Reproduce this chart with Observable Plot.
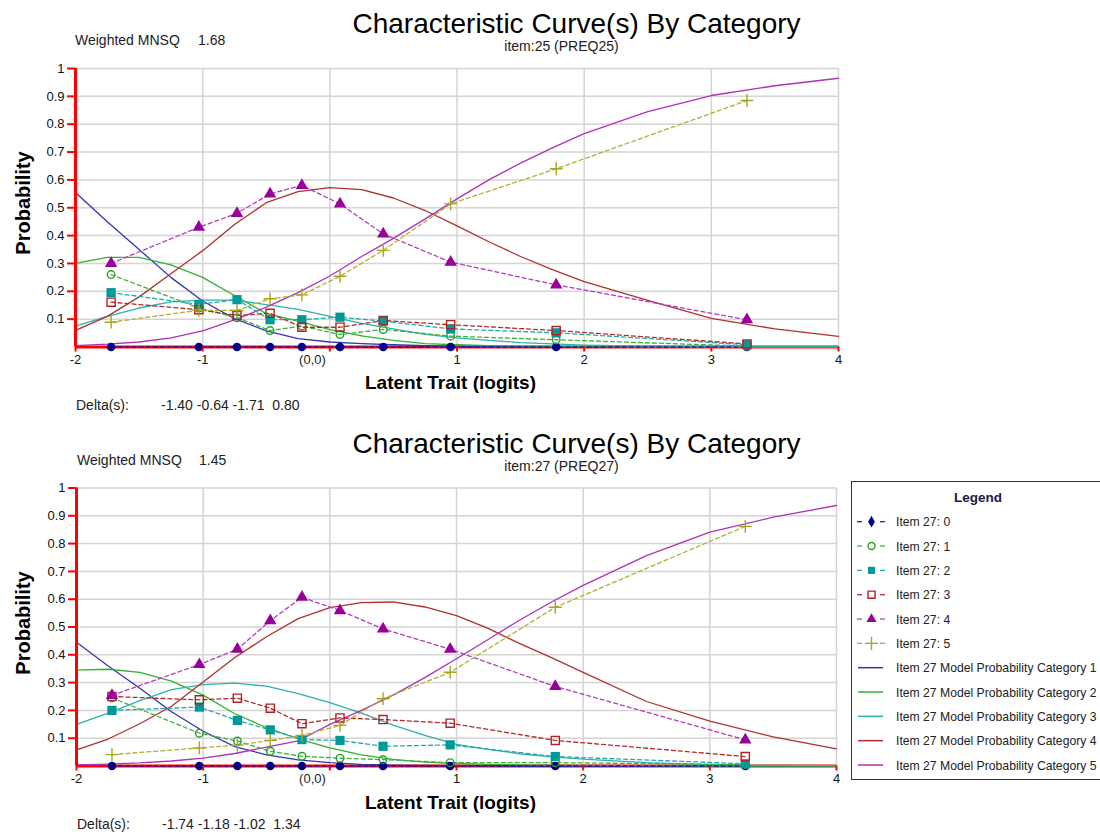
<!DOCTYPE html>
<html>
<head>
<meta charset="utf-8">
<script src="https://cdn.jsdelivr.net/npm/d3@7"></script>
<script src="https://cdn.jsdelivr.net/npm/@observablehq/plot@0.6"></script>
<style>
html,body{margin:0;padding:0;background:#fff;}
body{width:1100px;height:834px;overflow:hidden;position:relative;}
svg text{white-space:pre;}
</style>
</head>
<body>
<script>
const FONT = "Arial, 'Liberation Sans', Helvetica, sans-serif";

// ---------------- data ----------------
const xModel = [-2,-1.75,-1.5,-1.25,-1,-0.75,-0.5,-0.25,0,0.25,0.5,0.75,1,1.25,1.5,1.75,2,2.5,3,3.5,4];
const xObs = [-1.72,-1.03,-0.73,-0.47,-0.22,0.08,0.42,0.95,1.78,3.28];
const yTicks = [0.1,0.2,0.3,0.4,0.5,0.6,0.7,0.8,0.9,1];
const xTicks = [-2,-1,0,1,2,3,4];

// item 25 (top panel) model probability curves, categories 1..5
const top_model1 = [0.555,0.45,0.35,0.25,0.165,0.102,0.058,0.03,0.018,0.012,0.008,0.005,0.003,0.002,0.001,0.001,0,0,0,0,0];
const top_model2 = [0.30,0.322,0.322,0.295,0.25,0.185,0.12,0.093,0.062,0.04,0.024,0.012,0.008,0.005,0.003,0.002,0.001,0,0,0,0];
const top_model3 = [0.075,0.11,0.14,0.162,0.168,0.168,0.152,0.135,0.11,0.085,0.065,0.045,0.033,0.024,0.016,0.011,0.007,0.003,0.001,0,0];
const top_model4 = [0.06,0.11,0.18,0.263,0.346,0.44,0.518,0.558,0.572,0.565,0.535,0.49,0.435,0.378,0.325,0.278,0.235,0.167,0.103,0.065,0.038];
const top_model5 = [0.005,0.01,0.018,0.033,0.058,0.097,0.143,0.195,0.255,0.325,0.39,0.46,0.532,0.6,0.66,0.715,0.766,0.845,0.903,0.938,0.965];
// item 25 observed proportions, categories 0..5
const top_obs0 = [0,0,0,0,0,0,0,0,0,0];
const top_obs1 = [0.26,0.14,0.105,0.059,0.075,0.045,0.063,0.039,0.026,0.003];
const top_obs2 = [0.195,0.153,0.17,0.098,0.098,0.107,0.093,0.065,0.051,0.008];
const top_obs3 = [0.161,0.134,0.113,0.121,0.071,0.071,0.095,0.08,0.059,0.011];
const top_obs4 = [0.30,0.43,0.48,0.55,0.58,0.514,0.406,0.305,0.223,0.098];
const top_obs5 = [0.089,0.132,0.131,0.173,0.187,0.254,0.347,0.514,0.64,0.885];

// item 27 (bottom panel) model probability curves
const bot_model1 = [0.445,0.36,0.28,0.195,0.125,0.07,0.04,0.022,0.012,0.006,0.003,0.002,0.001,0.001,0,0,0,0,0,0,0];
const bot_model2 = [0.345,0.348,0.337,0.305,0.255,0.188,0.138,0.098,0.065,0.04,0.024,0.014,0.009,0.006,0.004,0.003,0.002,0.001,0,0,0];
const bot_model3 = [0.15,0.19,0.235,0.275,0.293,0.298,0.287,0.26,0.228,0.19,0.147,0.11,0.078,0.06,0.044,0.033,0.025,0.012,0.005,0.002,0.001];
const bot_model4 = [0.058,0.097,0.152,0.215,0.302,0.39,0.465,0.53,0.57,0.588,0.59,0.572,0.541,0.495,0.44,0.39,0.337,0.232,0.161,0.105,0.062];
const bot_model5 = [0.004,0.007,0.011,0.018,0.028,0.045,0.068,0.09,0.15,0.2,0.255,0.318,0.386,0.455,0.525,0.59,0.65,0.757,0.841,0.895,0.937];
// item 27 observed proportions
const bot_obs0 = [0,0,0,0,0,0,0,0,0,0];
const bot_obs1 = [0.245,0.118,0.09,0.053,0.035,0.028,0.023,0.012,0.012,0.005];
const bot_obs2 = [0.2,0.212,0.164,0.13,0.095,0.092,0.071,0.076,0.034,0.008];
const bot_obs3 = [0.25,0.238,0.244,0.208,0.152,0.173,0.167,0.154,0.092,0.034];
const bot_obs4 = [0.254,0.365,0.42,0.523,0.607,0.559,0.493,0.42,0.286,0.094];
const bot_obs5 = [0.041,0.065,0.075,0.092,0.11,0.146,0.242,0.337,0.571,0.862];

// texts
const titles = ["Characteristic Curve(s) By Category", "Characteristic Curve(s) By Category"];
const subtitles = ["item:25 (PREQ25)", "item:27 (PREQ27)"];
const mnsqValues = ["1.68", "1.45"];
const deltaValues = ["-1.40 -0.64 -1.71  0.80", "-1.74 -1.18 -1.02  1.34"];
const legendObsLabels = ["Item 27: 0","Item 27: 1","Item 27: 2","Item 27: 3","Item 27: 4","Item 27: 5"];
const legendModelLabels = ["Item 27 Model Probability Category 1","Item 27 Model Probability Category 2","Item 27 Model Probability Category 3","Item 27 Model Probability Category 4","Item 27 Model Probability Category 5"];

// ---------------- styles ----------------
const obsStyle = [
  {color:"#00008b", line:"#1c1ca8", symbol:"circle",   fill:true,  r:4.3, legend:"diamond"},
  {color:"#2ca02c", line:"#3cb03c", symbol:"circle",   fill:false, r:3.8, legend:"circle"},
  {color:"#009999", line:"#22aaaa", symbol:"square",   fill:true,  r:5.2, legend:"square"},
  {color:"#b22222", line:"#b52a2a", symbol:"square",   fill:false, r:4.6, legend:"square"},
  {color:"#990099", line:"#b43cc0", symbol:"triangle", fill:true,  r:4.6, legend:"triangle"},
  {color:"#a5a520", line:"#b0b032", symbol:"plus",     fill:false, r:4.2, legend:"plus"}
];
const modelColors = ["#3434b0","#33b033","#2eb0b0","#b03030","#b030b8"];

function panel(model, obs, m) {
  const marks = [
    Plot.gridX(xTicks.filter(t => t > -2), {stroke:"#d4d4d4", strokeOpacity:1, strokeWidth:1.5}),
    Plot.gridY(yTicks, {stroke:"#d4d4d4", strokeOpacity:1, strokeWidth:1.5}),
    Plot.ruleY([0], {stroke:"#ff0000", strokeWidth:3})
  ];
  model.forEach((vals, k) => {
    marks.push(Plot.line(vals.map((v, i) => ({x: xModel[i], y: v})),
      {x:"x", y:"y", stroke: modelColors[k], strokeWidth:1.3}));
  });
  obs.forEach((vals, k) => {
    marks.push(Plot.line(vals.map((v, i) => ({x: xObs[i], y: v})),
      {x:"x", y:"y", stroke: obsStyle[k].line, strokeWidth:1.3, strokeDasharray:"4,3"}));
  });
  obs.forEach((vals, k) => {
    const st = obsStyle[k];
    marks.push(Plot.dot(vals.map((v, i) => ({x: xObs[i], y: v})), {
      x:"x", y:"y", symbol: st.symbol, r: st.r,
      fill: st.fill ? st.color : "none",
      stroke: st.fill ? "none" : st.color,
      strokeWidth: 1.4
    }));
  });
  marks.push(Plot.ruleX([-2], {stroke:"#ff0000", strokeWidth:3}));
  marks.push(Plot.axisY(yTicks, {tickSize:8, tickPadding:3, stroke:"#ff0000", strokeWidth:2, fill:"#111",
    fontSize:13, tickFormat: d => String(+d.toFixed(1)), label:null}));
  marks.push(Plot.axisX(xTicks, {tickSize:5, tickPadding:3, stroke:"#ff0000", strokeWidth:2, fill:"#111",
    fontSize:13, tickFormat: d => d === 0 ? "" : String(d), label:null}));
  marks.push(Plot.text([0], {x: d => d, y: () => 0, text: () => "(0,0)", textAnchor:"end", lineAnchor:"top",
    dx:-4, dy:8, fill:"#222", fontSize:13}));
  const svg = Plot.plot({
    width: 850, height: 400,
    marginLeft: m.l, marginRight: m.r, marginTop: m.t, marginBottom: m.b,
    x: {domain: [-2, 4]}, y: {domain: [0, 1]},
    style: {fontFamily: FONT, fontSize: "13px", background: "white", color: "#111", overflow: "visible"},
    marks
  });
  svg.style.position = "absolute";
  svg.style.left = "0px";
  svg.style.top = m.top + "px";
  document.body.appendChild(svg);
}

panel([top_model1,top_model2,top_model3,top_model4,top_model5],
      [top_obs0,top_obs1,top_obs2,top_obs3,top_obs4,top_obs5],
      {l:75, r:12, t:68, b:53.5, top:0});
panel([bot_model1,bot_model2,bot_model3,bot_model4,bot_model5],
      [bot_obs0,bot_obs1,bot_obs2,bot_obs3,bot_obs4,bot_obs5],
      {l:76, r:14, t:67.5, b:54.5, top:420});

// ---------------- overlay texts & legend ----------------
const ov = d3.select(document.body).append("svg")
  .attr("width", 1100).attr("height", 834)
  .style("position", "absolute").style("left", "0px").style("top", "0px")
  .style("font-family", FONT);

function addText(x, y, s, o = {}) {
  const t = ov.append("text").attr("x", x).attr("y", y).text(s)
    .attr("font-size", o.size || 14).attr("fill", o.fill || "#111")
    .attr("text-anchor", o.anchor || "start")
    .attr("font-weight", o.weight || "normal");
  if (o.rotate) t.attr("transform", `rotate(-90 ${x} ${y})`);
  return t;
}

[0, 420].forEach((off, p) => {
  addText(576.5, off + 33, titles[p], {size:28, anchor:"middle", fill:"#000"});
  addText(561.5, off + 50.5, subtitles[p], {size:14, anchor:"middle", fill:"#222"});
  addText(75 + p * 2, off + 45, "Weighted MNSQ", {size:14, fill:"#222"});
  addText(198 + p, off + 45, mnsqValues[p], {size:14, fill:"#222"});
  addText(30, off + 203, "Probability", {size:20, weight:"bold", anchor:"middle", rotate:true, fill:"#000"});
  addText(450.5, off + 388.5, "Latent Trait (logits)", {size:19, weight:"bold", anchor:"middle", fill:"#000"});
  addText(76 + p, off + 409.5 - p, "Delta(s):", {size:14, fill:"#222"});
  addText(161 + p, off + 409.5 - p, deltaValues[p], {size:14, fill:"#222"});
});

// legend
ov.append("rect").attr("x", 851.5).attr("y", 481.5).attr("width", 260).attr("height", 298)
  .attr("fill", "#fff").attr("stroke", "#333");
addText(978, 502, "Legend", {size:13.5, weight:"bold", anchor:"middle", fill:"#1a1a40"});
const symMap = {diamond: d3.symbolDiamond, circle: d3.symbolCircle, square: d3.symbolSquare, triangle: d3.symbolTriangle, plus: d3.symbolPlus};
legendObsLabels.forEach((lab, i) => {
  const cy = 521.7 + i * 24.33, st = obsStyle[i];
  ov.append("line").attr("x1", 857).attr("x2", 862).attr("y1", cy).attr("y2", cy).attr("stroke", st.line).attr("stroke-width", 1.3);
  ov.append("line").attr("x1", 880).attr("x2", 885).attr("y1", cy).attr("y2", cy).attr("stroke", st.line).attr("stroke-width", 1.3);
  const sz = {diamond: 40, circle: 38, square: 50, triangle: 45, plus: 60}[st.legend];
  ov.append("path").attr("d", d3.symbol(symMap[st.legend], sz)())
    .attr("transform", `translate(871.5,${cy})`)
    .attr("fill", st.fill ? st.color : "none")
    .attr("stroke", st.fill ? "none" : st.color).attr("stroke-width", 1.4);
  addText(896, cy + 4.5, lab, {size:12.2, fill:"#222"});
});
legendModelLabels.forEach((lab, j) => {
  const cy = 521.7 + (j + 6) * 24.33;
  ov.append("line").attr("x1", 858).attr("x2", 883).attr("y1", cy).attr("y2", cy).attr("stroke", modelColors[j]).attr("stroke-width", 1.5);
  addText(896, cy + 4.5, lab, {size:12.2, fill:"#222"});
});
</script>
</body>
</html>
